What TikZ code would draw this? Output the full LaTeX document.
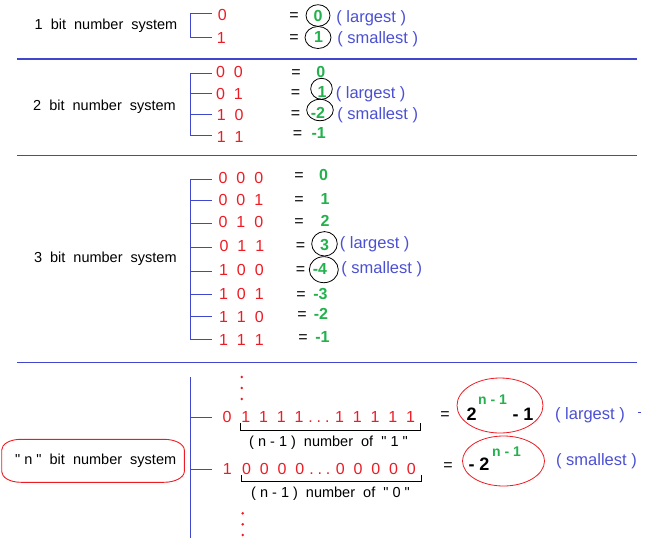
\documentclass[tikz,border=0pt]{standalone}
\usepackage{fontspec}
\setmainfont{Liberation Sans}[Ligatures=TeXOff]
\definecolor{myred}{RGB}{237,28,36}
\definecolor{mygreen}{RGB}{34,177,76}
\definecolor{myblue}{RGB}{63,72,204}
\definecolor{txtblue}{RGB}{75,80,210}
\newcommand\mydots{\hspace{4.9pt}.\hspace{3.85pt}.\hspace{3.85pt}.\hspace{5.5pt}}
\begin{document}
\begin{tikzpicture}[x=1pt,y=-1pt,
  lbl/.style={anchor=base west,inner sep=0pt,font=\fontsize{14.5}{16}\selectfont},
  bits/.style={anchor=base west,inner sep=0pt,text=myred,font=\fontsize{16}{18}\selectfont},
  eqs/.style={anchor=base,inner sep=0pt,font=\fontsize{16}{18}\selectfont},
  val/.style={anchor=base,inner sep=0pt,text=mygreen,font=\bfseries\fontsize{16}{18}\selectfont},
  note/.style={anchor=base west,inner sep=0pt,text=txtblue,font=\fontsize{16.5}{18}\selectfont},
  big/.style={anchor=base west,inner sep=0pt,text=black,font=\bfseries\fontsize{18}{20}\selectfont},
  sup/.style={anchor=base west,inner sep=0pt,text=mygreen,font=\bfseries\fontsize{14}{16}\selectfont},
  ring/.style={draw=black,line width=0.8pt},
  redring/.style={draw=myred,line width=0.8pt},
  tree/.style={draw=myblue,line width=1pt},
  sepline/.style={draw=myblue,line width=1pt},
  brace/.style={draw=black,line width=1pt},
  reddot/.style={fill=myred}]
\useasboundingbox (0,0) rectangle (647,543);

% separators
\draw[sepline] (17,59) -- (637,59);
\draw[sepline] (17,155) -- (637,155);
\draw[sepline] (17,362) -- (637,362);

% ---------- 1 bit ----------
\node[lbl] (L1) at (34.5,30) {1~~bit~~number~~system};
\draw[tree] (212,14) -- (190.7,14) -- (190.7,38) -- (212,38);
\node[bits] (a0) at (217.6,20.7) {0};
\node[bits] (a1) at (216.6,43.3) {1};
\node[eqs] (ae0) at (294,20.7) {=};
\node[eqs] (ae1) at (294,42.4) {=};
\node[val] (av0) at (318,21.2) {0};
\node[val] (av1) at (318.5,42.9) {1};
\draw[ring] (318,15.5) ellipse [x radius=12,y radius=10.8];
\draw[ring] (318,37.5) ellipse [x radius=13,y radius=11];
\node[note] (an0) at (336.2,22.5) {(~largest~)};
\node[note] (an1) at (337.2,43.3) {(~smallest~)};

% ---------- 2 bit ----------
\node[lbl] (L2) at (33,110) {2~~bit~~number~~system};
\draw[tree] (212,73.3) -- (190.7,73.3) -- (190.7,135) -- (212,135);
\draw[tree] (190.7,93.3) -- (212,93.3);
\draw[tree] (190.7,114) -- (212,114);
\node[bits] (b0) at (216,77.7) {0~~0};
\node[bits] (b1) at (216,99.4) {0~~1};
\node[bits] (b2) at (216.6,120.2) {1~~0};
\node[bits] (b3) at (216.6,142) {1~~1};
\node[eqs] (be0) at (296,77.3) {=};
\node[eqs] (be1) at (295.5,97.8) {=};
\node[eqs] (be2) at (295.5,118.7) {=};
\node[eqs] (be3) at (297.5,138.8) {=};
\node[val] (bv0) at (320.8,77.3) {0};
\node[val] (bv1) at (322,97.8) {1};
\node[val] (bv2) at (318,118.7) {-2};
\node[val] (bv3) at (318.7,138.8) {-1};
\draw[ring] (321.5,88.8) ellipse [x radius=10.8,y radius=10.5];
\draw[ring] (320,110) ellipse [x radius=13.3,y radius=10.7];
\node[note] (bn1) at (335.6,98.3) {(~largest~)};
\node[note] (bn2) at (337.2,119) {(~smallest~)};

% ---------- 3 bit ----------
\node[lbl] (L3) at (33.8,262.3) {3~~bit~~number~~system};
\draw[tree] (212,179) -- (190.7,179) -- (190.7,339.3) -- (212,339.3);
\foreach \yy in {200.7,223.3,247.3,271.3,294,316.7}
  \draw[tree] (190.7,\yy) -- (212,\yy);
\node[bits] (c0) at (218.5,183) {0~~0~~0};
\node[bits] (c1) at (218.5,205.4) {0~~0~~1};
\node[bits] (c2) at (218.5,227.4) {0~~1~~0};
\node[bits] (c3) at (219.5,251.4) {0~~1~~1};
\node[bits] (c4) at (219,275.4) {1~~0~~0};
\node[bits] (c5) at (219,299.4) {1~~0~~1};
\node[bits] (c6) at (219,322.4) {1~~1~~0};
\node[bits] (c7) at (219,345) {1~~1~~1};
\node[eqs] (ce0) at (299,180.3) {=};
\node[eqs] (ce1) at (299,204.5) {=};
\node[eqs] (ce2) at (299,226.8) {=};
\node[eqs] (ce3) at (300.5,250.3) {=};
\node[eqs] (ce4) at (300.5,274) {=};
\node[eqs] (ce5) at (301,299) {=};
\node[eqs] (ce6) at (302,319) {=};
\node[eqs] (ce7) at (303,342) {=};
\node[val] (cv0) at (323.5,180.3) {0};
\node[val] (cv1) at (325,204.5) {1};
\node[val] (cv2) at (325,226.8) {2};
\node[val] (cv3) at (324.5,250.3) {3};
\node[val] (cv4) at (320,274) {-4};
\node[val] (cv5) at (320.5,299) {-3};
\node[val] (cv6) at (321,319) {-2};
\node[val] (cv7) at (322.5,342) {-1};
\draw[ring] (324.5,243.8) ellipse [x radius=12.8,y radius=12.2];
\draw[ring] (323.8,269.7) ellipse [x radius=14.5,y radius=13];
\node[note] (cn3) at (339.6,248.3) {(~largest~)};
\node[note] (cn4) at (341.2,273.3) {(~smallest~)};

% ---------- n bit ----------
\node[lbl] (Ln) at (15,464.3) {"~n~"~~bit~~number~~system};
\draw[draw=myred,line width=0.9pt]
  (21,439.3) -- (164,439.3)
  .. controls (175.2,439.3) and (184.3,444.1) .. (184.3,450)
  -- (184.3,471.5)
  .. controls (184.3,477.4) and (175.2,482.3) .. (164,482.3)
  -- (21,482.3)
  .. controls (9.8,482.3) and (1.7,477.4) .. (1.7,471.5)
  -- (1.7,450)
  .. controls (1.7,444.1) and (9.8,439.3) .. (21,439.3) -- cycle;
\draw[tree] (190.7,377) -- (190.7,538);
\draw[tree] (190.7,417) -- (212,417);
\draw[tree] (190.7,469) -- (212,469);
% vertical dots
\foreach \yy in {377,388,399} \fill[reddot] (241.8,\yy) circle [radius=1.4];
\foreach \yy in {513.3,524.3,535} \fill[reddot] (242.7,\yy) circle [radius=1.4];
% rows
\node[bits] (n0) at (222.3,422.7) {0};
\node[bits] (ones) at (241.1,422.7) {1~~1~~1~~1\mydots 1~~1~~1~~1~~1};
\node[bits] (n1) at (222.6,474.3) {1};
\node[bits] (zeros) at (241.9,474.3) {0~~0~~0~~0\mydots 0~~0~~0~~0~~0};
\draw[brace] (240,423.3) -- (240,430) -- (420,430) -- (420,423.3);
\draw[brace] (241,475) -- (241,481) -- (421.7,481) -- (421.7,475);
\node[lbl] (cnt1) at (249,446.3) {(~n~-~1~)~~number~~of~~"~1~"};
\node[lbl] (cnt0) at (251,497.7) {(~n~-~1~)~~number~~of~~"~0~"};
\node[eqs] (ne0) at (445,419) {=};
\node[eqs] (ne1) at (448,470.7) {=};
% largest expression
\node[big] (two1) at (466.5,420) {2};
\node[sup] (exp1) at (478,404) {n~-~1};
\node[big] (m1) at (512.3,420) {-~1};
\draw[redring] (500,405.5) ellipse [x radius=43,y radius=27.5];
% smallest expression
\node[big] (two2) at (468.3,470.7) {-~2};
\node[sup] (exp2) at (492,456.7) {n~-~1};
\draw[redring] (503.5,461) ellipse [x radius=41,y radius=25];
\node[note] (nn0) at (554.9,419.3) {(~largest~)};
\node[note] (nn1) at (555.9,465) {(~smallest~)};
\draw[draw=myblue,line width=1pt] (638,412) -- (641,412);
\end{tikzpicture}
\end{document}
